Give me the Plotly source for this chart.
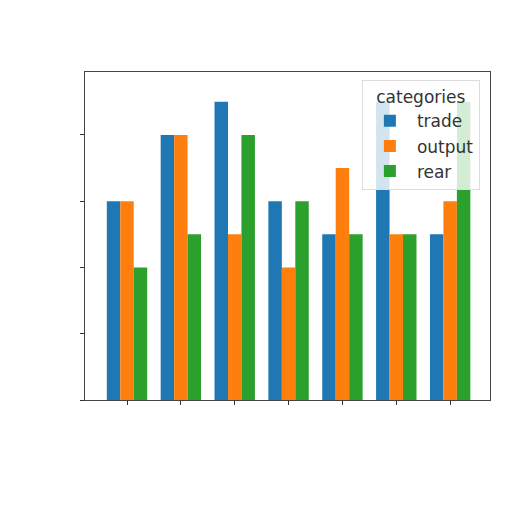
import plotly.graph_objects as go

# groups along x (no tick labels in the reference)
groups = [0, 1, 2, 3, 4, 5, 6]
trade = [6, 8, 9, 6, 5, 9, 5]
output = [6, 8, 5, 4, 7, 5, 6]
rear = [4, 5, 8, 6, 5, 5, 9]

series = [
    ("trade", trade, "#1f77b4"),
    ("output", output, "#ff7f0e"),
    ("rear", rear, "#2ca02c"),
]

fig = go.Figure()
for name, vals, color in series:
    fig.add_trace(go.Bar(x=groups, y=vals, name=name, marker=dict(color=color, line=dict(width=0))))

fig.update_layout(
    width=512,
    height=512,
    barmode="group",
    bargap=0.25,
    bargroupgap=0,
    plot_bgcolor="white",
    paper_bgcolor="white",
    font=dict(family="DejaVu Sans", color="#333333"),
    margin=dict(l=77, r=30, t=64, b=120),
    legend=dict(
        title=dict(text="categories", font=dict(size=17), side="top center"),
        font=dict(size=17),
        itemwidth=44,
        tracegroupgap=0,
        x=0.975, y=0.975, xanchor="right", yanchor="top",
        bgcolor="rgba(255,255,255,0.8)",
        bordercolor="#dddddd", borderwidth=1,
    ),
    xaxis=dict(
        range=[-0.78, 6.74],
        tickvals=groups,
        ticktext=[""] * len(groups),
        ticks="outside", ticklen=4, tickcolor="#333333",
        showline=True, linecolor="#444444", mirror=True,
        showgrid=False, zeroline=False,
    ),
    yaxis=dict(
        range=[0, 9.9],
        tickvals=[0, 2, 4, 6, 8],
        ticktext=[""] * 5,
        ticks="outside", ticklen=4, tickcolor="#333333",
        showline=True, linecolor="#444444", mirror=True,
        showgrid=False, zeroline=False,
    ),
)

fig.write_html("out.html")
